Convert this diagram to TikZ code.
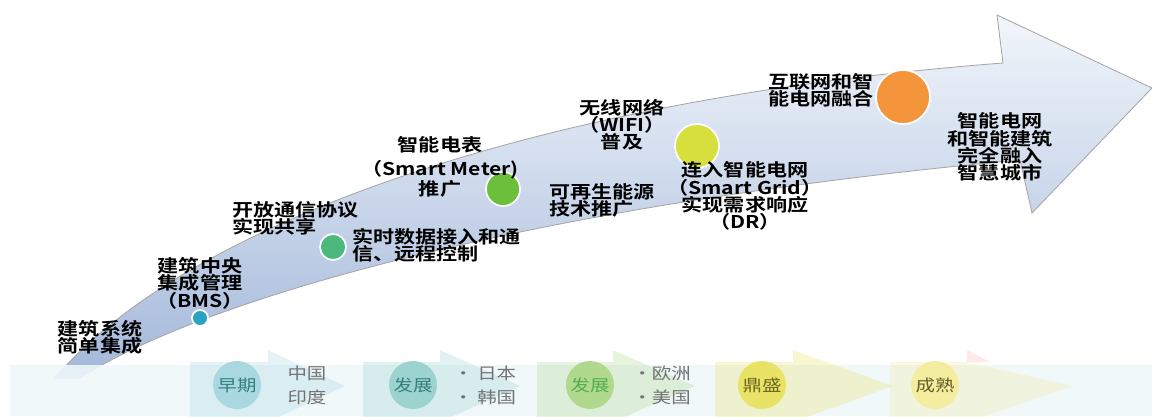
\documentclass[tikz,border=0pt]{standalone}
\usepackage{fontspec}
\newfontfamily\cjk[FakeStretch=1.2, BoldFont={* Bold}]{Noto Sans CJK SC}
\usepackage{tikz}
\usetikzlibrary{positioning, shapes.geometric}
\usepackage{xcolor}
\definecolor{bandlight}{HTML}{F2F6FB}
\definecolor{banddark}{HTML}{A3B8DA}
\definecolor{stripbg}{HTML}{EEF7FA}
\definecolor{dotcyan}{HTML}{2BA2C4}
\definecolor{dotteal}{HTML}{4DB87C}
\definecolor{dotgreen}{HTML}{6CBF3A}
\definecolor{dotlime}{HTML}{D6DF3C}
\definecolor{dotorange}{HTML}{F4953C}
\definecolor{stEarly}{HTML}{A9D8E0}
\definecolor{stGrow}{HTML}{9CD3CF}
\definecolor{stWest}{HTML}{B0D98E}
\definecolor{stPeak}{HTML}{E8E366}
\definecolor{stMature}{HTML}{F4EC9E}
\tikzset{
  milestone/.style={
    circle, draw=white, line width=1.2pt, inner sep=0pt,
    fill=#1
  },
  note/.style={
    font=\cjk\bfseries\fontsize{12.5}{12.2}\selectfont,
    align=center, inner sep=0pt, text=black
  },
  stage/.style={
    circle, inner sep=0pt, minimum size=1.2cm, fill=#1,
    font=\cjk\fontsize{11.5}{12}\selectfont
  },
  country/.style={
    align=left, inner sep=0pt, text=black!55,
    font=\cjk\fontsize{11.5}{17}\selectfont
  },
  chevron/.style={fill=#1, opacity=0.3}
}

\begin{document}
\begin{tikzpicture}[x=0.025cm, y=-0.025cm]
  \useasboundingbox (0,0) rectangle (1152,416);

  % main arrow
  \path[draw=gray!70, line width=0.6pt, top color=bandlight, bottom color=banddark]
    (55,378) .. controls (180,230) and (520,100) .. (1003,63)
    -- (997,15) -- (1152,88) -- (1032,213) -- (1020,160)
    .. controls (560,202) and (215,292) .. (80,378) -- cycle;

  % stage strip
  \fill[stripbg, opacity=0.9] (10,365) rectangle (1152,416);
  \fill[chevron=stEarly] (190,362) -- (268,362) -- (268,350) -- (345,386) -- (268,422) -- (190,422) -- cycle;
  \fill[chevron=stGrow] (363,362) -- (440,362) -- (440,350) -- (520,386) -- (440,422) -- (363,422) -- cycle;
  \fill[chevron=stWest] (537,362) -- (613,362) -- (613,350) -- (695,386) -- (613,422) -- (537,422) -- cycle;
  \fill[chevron=stPeak] (715,362) -- (793,362) -- (793,350) -- (893,386) -- (793,422) -- (715,422) -- cycle;
  \fill[chevron=red!30] (890,362) -- (967,362) -- (967,350) -- (990,362) -- cycle;
  \fill[chevron=stMature] (890,362) -- (967,362) -- (1073,386) -- (967,422) -- (890,422) -- cycle;

  % milestones
  \node[milestone=dotcyan, minimum size=0.4cm] (bms) at (200,318) {};
  \node[milestone=dotteal, minimum size=0.65cm] (proto) at (333,247) {};
  \node[milestone=dotgreen, minimum size=0.85cm] (meter) at (503,189) {};
  \node[milestone=dotlime, minimum size=1.1cm] (grid) at (697,146) {};
  \node[milestone=dotorange, minimum size=1.35cm] (city) at (903,97) {};

  \node[note] (simpleTxt) at (100,337) {建筑系统\\简单集成};
  \node[note, above=0pt of bms] (bmsTxt) {建筑中央\\集成管理\\（BMS）};
  \node[note, align=left, anchor=west] (protoTxt) at (232,218) {开放通信协议\\实现共享};
  \node[note, align=left, anchor=west] (dataTxt) at (352,245) {实时数据接入和通\\信、远程控制};
  \node[note] (meterTxt) at (440,167) {智能电表\\[5pt]（Smart Meter)\\推广};
  \node[note, align=left, anchor=west] (greenTxt) at (549,200) {可再生能源\\技术推广};
  \node[note] (wifiTxt) at (622,125) {无线网络\\（WIFI）\\普及};
  \node[note] (drTxt) at (745,196) {连入智能电网\\（Smart Grid）\\实现需求响应\\（DR）};
  \node[note, align=left, anchor=west] (iotTxt) at (768,90) {互联网和智\\能电网融合};
  \node[note] (cityTxt) at (1000,147) {智能电网\\和智能建筑\\完全融入\\智慧城市};

  % stages
  \node[stage=stEarly, text=teal!60!gray] (early) at (237,385) {早期};
  \node[country, right=0.65cm of early] (asia) {中国\\印度};
  \node[stage=stGrow, text=teal!60!gray] (grow) at (413,385) {发展};
  \node[country, right=0.4cm of grow] (japan) {• 日本\\• 韩国};
  \node[stage=stWest, text=green!35!gray] (growWest) at (590,385) {发展};
  \node[country, right=0.45cm of growWest] (west) {·欧洲\\·美国};
  \node[stage=stPeak, text=olive!70!black] (peak) at (762,385) {鼎盛};
  \node[stage=stMature, text=olive!60!black] (mature) at (935,385) {成熟};
\end{tikzpicture}
\end{document}
